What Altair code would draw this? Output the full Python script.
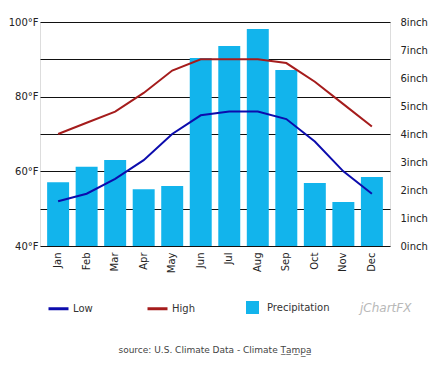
import altair as alt
import pandas as pd

months = ["Jan", "Feb", "Mar", "Apr", "May", "Jun", "Jul", "Aug", "Sep", "Oct", "Nov", "Dec"]
low = [52, 54, 58, 63, 70, 75, 76, 76, 74, 68, 60, 54]
high = [70, 73, 76, 81, 87, 90, 90, 90, 89, 84, 78, 72]
precip = [2.28, 2.83, 3.07, 2.03, 2.14, 6.71, 7.14, 7.75, 6.29, 2.25, 1.57, 2.46]
source_text = "source: U.S. Climate Data - Climate T̲a̲m̲p̲a̲"

FONT = "DejaVu Sans"
BLUE_BAR = "#12b4ec"
LOW_C = "#0c0cad"
HIGH_C = "#a51c1c"

bars_df = pd.DataFrame({"month": months, "precip": precip, "kind": ["Precipitation"] * 12})
lines_df = pd.concat([
    pd.DataFrame({"month": months, "temp": low, "series": "Low"}),
    pd.DataFrame({"month": months, "temp": high, "series": "High"}),
])

xenc = alt.X(
    "month:N", sort=months, title=None,
    scale=alt.Scale(paddingInner=0.23, paddingOuter=0.25),
    axis=alt.Axis(labelAngle=-90, labelFont=FONT, labelFontSize=10, labelColor="#222",
                  domain=False, ticks=False, labelPadding=6),
)

bars = alt.Chart(bars_df).mark_bar(stroke=None).encode(
    x=xenc,
    y=alt.Y("precip:Q", title=None,
            scale=alt.Scale(domain=[0, 8], nice=False),
            axis=alt.Axis(orient="right", values=list(range(0, 9)), labelExpr="datum.value + 'inch'",
                          grid=False, ticks=False, domain=False, labelFont=FONT, labelFontSize=10,
                          labelColor="#222", labelPadding=10)),
    fill=alt.Fill("kind:N", scale=alt.Scale(domain=["Precipitation"], range=[BLUE_BAR]),
                  legend=alt.Legend(title=None, orient="none", legendX=206, legendY=279,
                                    symbolType="square", symbolSize=169, symbolStrokeWidth=0,
                                    labelFont=FONT, labelFontSize=10, labelColor="#333",
                                    labelOffset=8)),
)

lines = alt.Chart(lines_df).mark_line(strokeWidth=2).encode(
    x=xenc,
    y=alt.Y("temp:Q", title=None,
            scale=alt.Scale(domain=[40, 100], nice=False),
            axis=alt.Axis(orient="left", values=list(range(40, 101, 10)),
                          labelExpr="datum.value % 20 == 0 ? datum.value + '°F' : ''",
                          grid=True, gridColor="#111", gridWidth=1, gridOpacity=1,
                          ticks=False, domain=False, labelFont=FONT, labelFontSize=10,
                          labelColor="#222", labelPadding=2)),
    stroke=alt.Stroke("series:N", scale=alt.Scale(domain=["Low", "High"], range=[LOW_C, HIGH_C]),
                      legend=alt.Legend(title=None, orient="none", legendX=7, legendY=275,
                                        direction="horizontal", symbolType="stroke",
                                        symbolSize=400, symbolStrokeWidth=3,
                                        labelFont=FONT, labelFontSize=10, labelColor="#333",
                                        labelOffset=3, columnPadding=48)),
    detail="series:N",
)

logo = alt.Chart(pd.DataFrame({"t": ["jChartFX"]})).mark_text(
    font=FONT, fontSize=12, fontStyle="italic", color="#b8b8b8", align="left", baseline="middle"
).encode(text="t:N", x=alt.value(320), y=alt.value(286))

source = alt.Chart(pd.DataFrame({"t": [source_text]})).mark_text(
    font=FONT, fontSize=9, color="#444", align="center", baseline="middle"
).encode(text="t:N", x=alt.value(175), y=alt.value(328))

chart = alt.layer(bars, lines, logo, source).resolve_scale(
    y="independent", fill="independent", stroke="independent"
).properties(
    width=350, height=224,
    autosize=alt.AutoSizeParams(type="none"),
    padding={"left": 32, "top": 14, "right": 40, "bottom": 111},
).configure_view(stroke=None).configure(background="white")

chart.save("out.html", embed_options={"renderer": "svg", "actions": False})
